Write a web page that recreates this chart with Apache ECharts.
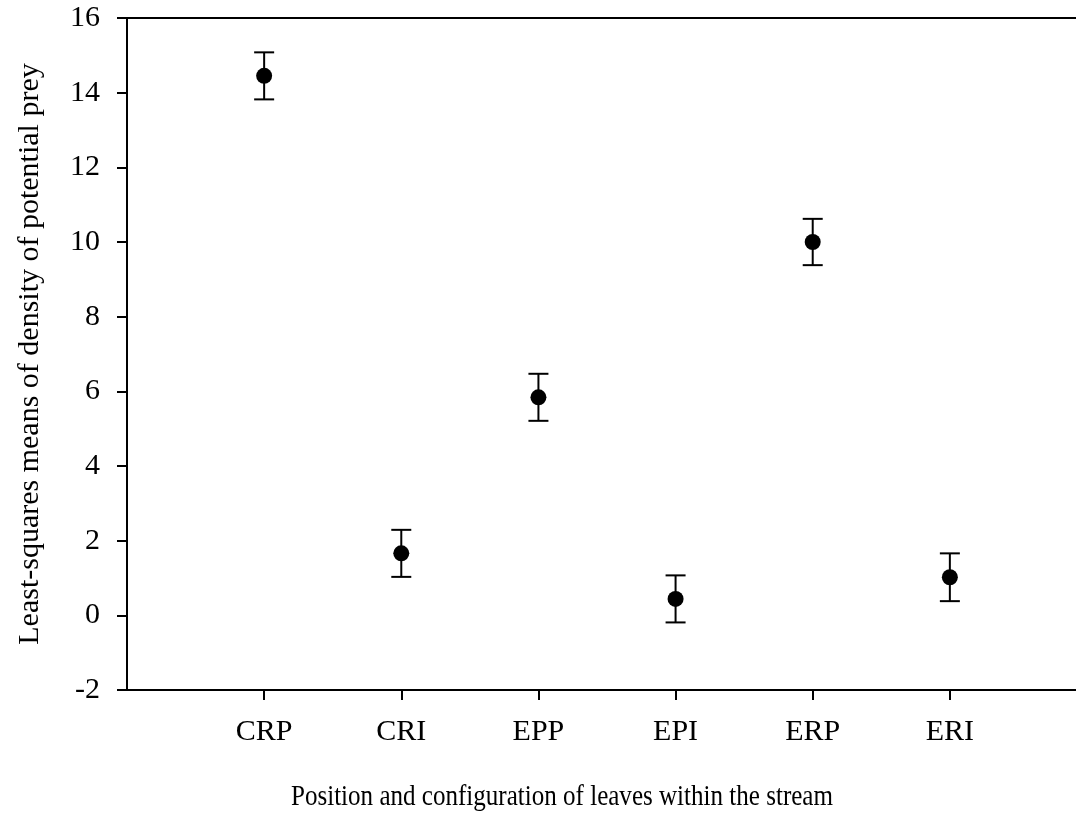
<!DOCTYPE html>
<html>
<head>
<meta charset="utf-8">
<title>Least-squares means of density of potential prey</title>
<script src="https://cdn.jsdelivr.net/npm/echarts@6/dist/echarts.min.js"></script>
<style>
  html, body { margin: 0; padding: 0; background: #fff; overflow: hidden; }
  /* the plot frame runs slightly past the right edge of the window */
  #chart { width: 1092px; height: 819px; }
</style>
</head>
<body>
<div id="chart"></div>
<script>
// Leaf position / configuration groups along the stream
const categories = ['CRP', 'CRI', 'EPP', 'EPI', 'ERP', 'ERI'];
// Least-squares means of potential prey density
const means = [14.45, 1.66, 5.84, 0.44, 10.0, 1.02];
// Standard errors shown as whiskers
const stdErrs = [0.63, 0.63, 0.63, 0.63, 0.62, 0.64];
// Y axis range and tick step
const yMin = -2, yMax = 16, yStep = 2;

const FONT = 'Liberation Serif';

// Category slots padded by an empty slot at each end, so the groups sit
// one step in from the axis edges.
const slots = [''].concat(categories, ['']);

const errData = categories.map((c, i) => [c, means[i] - stdErrs[i], means[i] + stdErrs[i]]);
const pointData = categories.map((c, i) => [c, means[i]]);

const chart = echarts.init(document.getElementById('chart'), null, { renderer: 'canvas' });

chart.setOption({
  backgroundColor: '#fff',
  animation: false,
  grid: {
    left: 127, top: 18, width: 960, height: 672,
    show: true, borderColor: '#000', borderWidth: 2, backgroundColor: 'transparent'
  },
  xAxis: {
    type: 'category',
    data: slots,
    boundaryGap: false,
    axisLine: { onZero: false, lineStyle: { color: '#000', width: 2 } },
    axisTick: {
      show: true, length: 10, inside: false,
      lineStyle: { color: '#000', width: 2 },
      interval: (idx, val) => val !== ''
    },
    axisLabel: {
      interval: 0, margin: 27,
      color: '#000', fontFamily: FONT, fontSize: 30
    },
    splitLine: { show: false }
  },
  yAxis: {
    type: 'value',
    min: yMin, max: yMax, interval: yStep,
    axisLine: { show: true, lineStyle: { color: '#000', width: 2 } },
    axisTick: { show: true, length: 10, inside: false, lineStyle: { color: '#000', width: 2 } },
    axisLabel: { margin: 27, color: '#000', fontFamily: FONT, fontSize: 30 },
    splitLine: { show: false }
  },
  graphic: [
    {
      type: 'text',
      x: 30, y: 354,
      rotation: Math.PI / 2,
      style: {
        text: 'Least-squares means of density of potential prey',
        font: '30px "' + FONT + '"',
        fill: '#000',
        align: 'center', verticalAlign: 'middle'
      }
    },
    {
      type: 'text',
      x: 291, y: 797,
      scaleX: 0.835,
      style: {
        text: 'Position and configuration of leaves within the stream',
        font: '30px "' + FONT + '"',
        fill: '#000',
        align: 'left', verticalAlign: 'middle'
      }
    }
  ],
  series: [
    {
      type: 'custom',
      name: 'SE',
      data: errData,
      renderItem: function (params, api) {
        const x = api.value(0);
        const lo = api.coord([x, api.value(1)]);
        const hi = api.coord([x, api.value(2)]);
        const half = 10;
        const style = { stroke: '#000', lineWidth: 2 };
        return {
          type: 'group',
          children: [
            { type: 'line', shape: { x1: lo[0], y1: lo[1], x2: hi[0], y2: hi[1] }, style },
            { type: 'line', shape: { x1: hi[0] - half, y1: hi[1], x2: hi[0] + half, y2: hi[1] }, style },
            { type: 'line', shape: { x1: lo[0] - half, y1: lo[1], x2: lo[0] + half, y2: lo[1] }, style }
          ]
        };
      },
      z: 2
    },
    {
      type: 'scatter',
      name: 'Mean',
      data: pointData,
      symbol: 'circle',
      symbolSize: 16,
      itemStyle: { color: '#000', opacity: 1 },
      z: 3
    }
  ]
});
</script>
</body>
</html>
